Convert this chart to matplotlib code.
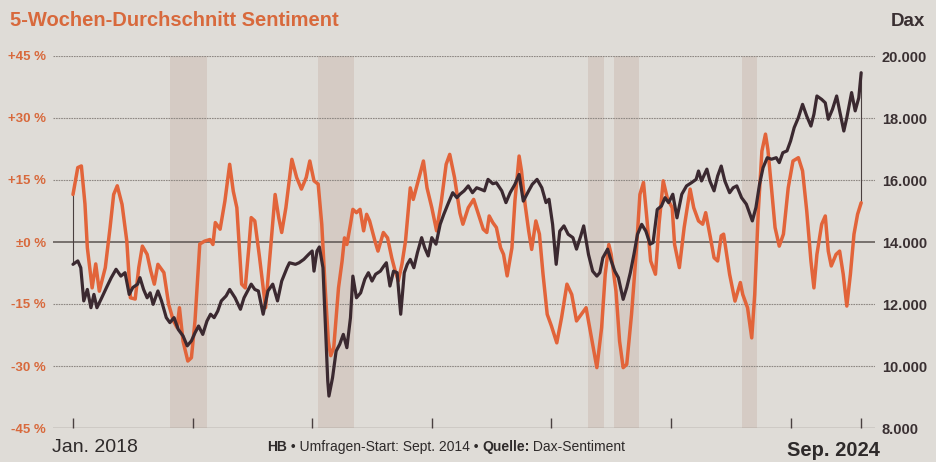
import numpy as np
import matplotlib
matplotlib.use("Agg")
import matplotlib.pyplot as plt

plt.rcParams['font.family'] = ['Liberation Sans', 'DejaVu Sans']

START = 2018.0

# sentiment, 5-week average (%), x = years since Jan. 2018
sent_t = [0.00, 0.04, 0.07, 0.10, 0.12, 0.16, 0.19, 0.22, 0.27, 0.31, 0.34, 0.37, 0.41, 0.45,
          0.48, 0.52, 0.55, 0.58, 0.62, 0.65, 0.68, 0.71, 0.76, 0.80, 0.84, 0.87, 0.89, 0.92,
          0.96, 0.99, 1.02, 1.06, 1.10, 1.145, 1.17, 1.19, 1.23, 1.27, 1.31, 1.34, 1.37, 1.41,
          1.44, 1.47, 1.49, 1.52, 1.56, 1.61, 1.65, 1.69, 1.72, 1.745, 1.78, 1.83, 1.87, 1.91,
          1.95, 1.98, 2.015, 2.05, 2.08, 2.11, 2.135, 2.155, 2.18, 2.22, 2.25, 2.27, 2.29, 2.32,
          2.34, 2.37, 2.40, 2.43, 2.455, 2.48, 2.525, 2.55, 2.595, 2.63, 2.665, 2.69, 2.72, 2.75,
          2.78, 2.82, 2.845, 2.89, 2.93, 2.96, 3.00, 3.04, 3.08, 3.12, 3.15, 3.19, 3.235, 3.26,
          3.305, 3.35, 3.39, 3.43, 3.46, 3.48, 3.51, 3.54, 3.575, 3.60, 3.63, 3.67, 3.695, 3.73,
          3.75, 3.78, 3.81, 3.835, 3.87, 3.90, 3.93, 3.965, 4.00, 4.045, 4.085, 4.13, 4.17, 4.21,
          4.25, 4.29, 4.33, 4.38, 4.42, 4.45, 4.48, 4.50, 4.54, 4.57, 4.60, 4.63, 4.67, 4.71,
          4.74, 4.77, 4.80, 4.83, 4.87, 4.90, 4.935, 4.97, 5.01, 5.03, 5.07, 5.11, 5.16, 5.19,
          5.23, 5.265, 5.29, 5.33, 5.36, 5.39, 5.42, 5.44, 5.465, 5.49, 5.535, 5.58, 5.60, 5.64,
          5.675, 5.70, 5.73, 5.76, 5.79, 5.81, 5.84, 5.87, 5.905, 5.94, 5.98, 6.02, 6.065, 6.10,
          6.135, 6.17, 6.195, 6.22, 6.26, 6.29, 6.315, 6.34, 6.38, 6.41, 6.44, 6.47, 6.50, 6.53,
          6.56, 6.59]
sent_pct = [11.5, 18.0, 18.4, 9.2, -1.4, -11.1, -5.3, -11.9, -6.2, 3.5, 11.5, 13.6, 9.1, 0.2,
            -13.5, -13.8, -6.2, -1.0, -3.0, -7.0, -10.2, -5.4, -7.4, -15.1, -19.1, -20.7, -15.9, -24.0,
            -28.8, -28.0, -19.1, -0.5, 0.2, 0.6, -0.6, 4.7, 3.1, 9.9, 18.8, 12.3, 8.3, -10.2,
            -11.1, -1.4, 5.9, 5.1, -3.8, -15.9, -2.2, 11.5, 5.9, 2.3, 8.3, 20.0, 15.6, 12.8,
            15.6, 19.6, 14.8, 14.0, 4.3, -11.9, -24.0, -27.5, -25.6, -11.1, -4.6, 1.0, -0.6, 4.3,
            7.9, 7.1, 7.9, 2.7, 6.7, 5.1, 0.2, -2.2, 2.3, 1.0, -3.8, -6.6, -9.4, -5.4,
            0.2, 13.1, 10.3, 15.2, 19.6, 13.1, 8.3, 2.7, 9.9, 18.8, 21.2, 15.6, 7.0, 4.3,
            8.3, 10.3, 6.7, 3.1, 2.3, 6.3, 4.7, 3.5, -1.4, -3.0, -8.2, -1.4, 9.9, 20.8,
            17.2, 9.1, 2.7, -1.8, 5.1, 1.9, -7.8, -17.5, -20.3, -24.4, -18.3, -10.2, -12.7, -19.1,
            -17.5, -15.9, -22.3, -30.4, -20.7, -7.8, -0.6, -3.0, -11.9, -24.0, -30.4, -29.6, -17.5, -2.2,
            11.5, 14.4, 5.1, -4.6, -7.8, 4.3, 14.8, 10.5, 8.3, -0.6, -6.2, 3.5, 12.8, 8.3,
            5.1, 4.3, 7.1, 1.0, -3.8, -4.6, 1.5, 1.9, -3.0, -7.8, -14.3, -9.8, -12.7, -15.9,
            -23.2, -12.7, 7.5, 22.0, 26.1, 22.4, 13.1, 3.5, -1.0, 1.9, 13.1, 19.6, 20.4, 17.2,
            7.5, -4.6, -11.1, -3.0, 4.3, 6.3, -2.2, -5.8, -3.0, -2.2, -7.8, -15.5, -7.8, 1.9,
            6.7, 9.5]

# Dax index points
dax_t = [0.00, 0.04, 0.065, 0.09, 0.12, 0.15, 0.175, 0.20, 0.24, 0.28, 0.32, 0.36, 0.40, 0.435,
         0.47, 0.50, 0.54, 0.56, 0.59, 0.62, 0.645, 0.67, 0.71, 0.74, 0.78, 0.81, 0.845, 0.88,
         0.92, 0.955, 0.99, 1.02, 1.05, 1.085, 1.12, 1.15, 1.18, 1.21, 1.24, 1.28, 1.31, 1.355,
         1.40, 1.43, 1.49, 1.52, 1.55, 1.59, 1.63, 1.67, 1.71, 1.745, 1.79, 1.81, 1.86, 1.89,
         1.93, 1.97, 2.00, 2.015, 2.04, 2.06, 2.09, 2.11, 2.13, 2.14, 2.17, 2.20, 2.23, 2.26,
         2.29, 2.32, 2.34, 2.37, 2.405, 2.44, 2.47, 2.50, 2.53, 2.57, 2.60, 2.62, 2.65, 2.68,
         2.71, 2.74, 2.77, 2.795, 2.82, 2.85, 2.88, 2.915, 2.94, 2.97, 3.00, 3.035, 3.07, 3.10,
         3.14, 3.175, 3.21, 3.235, 3.27, 3.305, 3.34, 3.375, 3.41, 3.44, 3.47, 3.51, 3.54, 3.585,
         3.62, 3.655, 3.695, 3.73, 3.765, 3.81, 3.84, 3.88, 3.92, 3.955, 3.98, 4.01, 4.04, 4.07,
         4.105, 4.14, 4.18, 4.21, 4.245, 4.27, 4.31, 4.345, 4.38, 4.405, 4.43, 4.47, 4.50, 4.53,
         4.56, 4.60, 4.63, 4.66, 4.69, 4.72, 4.755, 4.79, 4.825, 4.85, 4.885, 4.92, 4.95, 4.98,
         5.015, 5.05, 5.09, 5.13, 5.17, 5.21, 5.23, 5.255, 5.30, 5.325, 5.36, 5.39, 5.42, 5.45,
         5.49, 5.52, 5.55, 5.59, 5.63, 5.66, 5.68, 5.71, 5.74, 5.77, 5.805, 5.84, 5.88, 5.905,
         5.935, 5.97, 6.00, 6.03, 6.065, 6.10, 6.135, 6.17, 6.195, 6.22, 6.26, 6.29, 6.315, 6.35,
         6.385, 6.41, 6.445, 6.47, 6.51, 6.54, 6.57, 6.59]
dax_pts = [13280, 13390, 13170, 12100, 12470, 11880, 12310, 11880, 12200, 12530, 12850, 13120, 12900, 13010,
           12310, 12530, 12640, 12850, 12470, 12200, 12360, 11990, 12420, 12100, 11560, 11400, 11560, 11180,
           10970, 10650, 10810, 11070, 11290, 11020, 11450, 11670, 11560, 11770, 12100, 12260, 12470, 12200,
           11830, 12200, 12640, 12470, 12420, 11670, 12420, 12640, 12100, 12740, 13170, 13330, 13280, 13330,
           13440, 13600, 13710, 13060, 13710, 13840, 13170, 11340, 9520, 9030, 9620, 10480, 10700, 11020,
           10590, 11560, 12900, 12200, 12360, 12800, 13010, 12740, 12960, 13060, 13230, 13330, 12580, 13060,
           13010, 11670, 13010, 13280, 13440, 13170, 13660, 14140, 13820, 13550, 14140, 13930, 14570, 14890,
           15270, 15590, 15430, 15540, 15650, 15810, 15590, 15750, 15700, 15650, 16020, 15880, 15910, 15650,
           15270, 15590, 15860, 16180, 15320, 15650, 15860, 16020, 15750, 15270, 15380, 14570, 13280, 14350,
           14520, 14250, 14140, 13770, 14190, 14520, 13600, 13060, 12900, 13010, 13490, 13770, 13390, 13060,
           12850, 12150, 12530, 13010, 13600, 14250, 14570, 14350, 13930, 13980, 15050, 15160, 15430, 15270,
           15540, 14780, 15540, 15810, 15910, 16020, 16290, 15970, 16350, 15970, 15650, 16130, 16450, 15970,
           15590, 15750, 15810, 15430, 15220, 14890, 14680, 15110, 15860, 16400, 16720, 16670, 16720, 16560,
           16880, 16940, 17260, 17690, 18010, 18440, 18060, 17740, 18120, 18710, 18600, 18490, 17960, 18280,
           18710, 18230, 17580, 18010, 18820, 18230, 18650, 19460]

# shaded periods (years since Jan. 2018)
band_start = [0.81, 2.05, 4.31, 4.52, 5.59]
band_end = [1.12, 2.35, 4.44, 4.73, 5.72]

pct_ticks = [45, 30, 15, 0, -15, -30, -45]
pct_labels = ['+45 %', '+30 %', '+15 %', '±0 %', '-15 %', '-30 %', '-45 %']
dax_ticks = [20000, 18000, 16000, 14000, 12000, 10000, 8000]
dax_labels = ['20.000', '18.000', '16.000', '14.000', '12.000', '10.000', '8.000']
year_ticks = [0, 1, 2, 3, 4, 5, 6]

BG = '#dfdcd7'
ORANGE = '#e2643a'
TITLE_OR = '#d8693c'
DARK = '#3b2930'
BAND = '#d5cbc4'
GRID = '#8e8883'

sx = START + np.array(sent_t)
dx = START + np.array(dax_t)

fig = plt.figure(figsize=(9.36, 4.62), dpi=100, facecolor=BG)
ax = fig.add_axes([53 / 936, 1 - 428 / 462, (875 - 53) / 936, (428 - 56) / 462])
ax.set_facecolor(BG)
ax2 = ax.twinx()

ax.set_xlim(START - 20 / 119.6, START + (875 - 73) / 119.6)
ax.set_ylim(-45, 45)
ax2.set_ylim(8000, 20000)

for a, b in zip(band_start, band_end):
    ax.axvspan(START + a, START + b, color=BAND, lw=0, zorder=0)

for v in [45, 30, 15, -15, -30]:
    ax.axhline(v, color=GRID, lw=0.8, ls=(0, (1.5, 0.8)), zorder=1)
ax.axhline(0, color='#5b5350', lw=1.1, zorder=1)
ax.axhline(-45, color='#8a847f', lw=1.0, zorder=1)

ax.plot(sx, sent_pct, color=ORANGE, lw=2.5, solid_joinstyle='round', solid_capstyle='round', zorder=3)
ax2.plot(dx, dax_pts, color=DARK, lw=2.3, solid_joinstyle='round', solid_capstyle='round', zorder=3)

# thin connectors between the two series at both ends
to_pct = lambda d: (d - 14000) / 2000 * 15
ax.plot([sx[0], dx[0]], [sent_pct[0], to_pct(dax_pts[0])], color='#4a4040', lw=0.8, zorder=2)
ax.plot([sx[-1], dx[-1]], [sent_pct[-1], to_pct(dax_pts[-1])], color='#4a4040', lw=0.8, zorder=2)

for s in list(ax.spines.values()) + list(ax2.spines.values()):
    s.set_visible(False)

ax.set_yticks(pct_ticks)
ax.set_yticklabels(pct_labels, color=TITLE_OR, fontsize=9.5, fontweight='bold')
ax.tick_params(axis='y', length=0, pad=5)
ax2.set_yticks(dax_ticks)
ax2.set_yticklabels(dax_labels, color='#3a3032', fontsize=10.5, fontweight='bold')
ax2.tick_params(axis='y', length=0, pad=5)

xt = [START + y for y in year_ticks] + [dx[-1]]
ax.set_xticks(xt)
ax.set_xticklabels([])
ax.tick_params(axis='x', direction='in', length=7, width=1.0, color='#4a4040')

fig.text(10 / 936, 1 - 20 / 462, '5-Wochen-Durchschnitt Sentiment', color=TITLE_OR,
         fontsize=14.5, fontweight='bold', va='center', ha='left')
fig.text(925 / 936, 1 - 22 / 462, 'Dax', color='#3a3032', fontsize=13.5,
         fontweight='bold', va='center', ha='right')
fig.text(52 / 936, 1 - 447 / 462, 'Jan. 2018', color='#2e2a2a', fontsize=14,
         va='center', ha='left')
fig.text(880 / 936, 1 - 450 / 462, 'Sep. 2024', color='#2e2a2a', fontsize=14.5,
         fontweight='bold', va='center', ha='right')

parts = [('HB', 'bold'), (' • Umfragen-Start: Sept. 2014 • ', 'normal'),
         ('Quelle:', 'bold'), (' Dax-Sentiment', 'normal')]
fig.canvas.draw()
r = fig.canvas.get_renderer()
widths = []
for t, w in parts:
    tt = fig.text(0, 0, t, fontsize=10, fontweight=w)
    widths.append(tt.get_window_extent(r).width)
    tt.remove()
x0 = 446 - sum(widths) / 2
for (t, w), wd in zip(parts, widths):
    fig.text(x0 / 936, 1 - 447 / 462, t, fontsize=10, fontweight=w, color='#2e2a2a',
             va='center', ha='left')
    x0 += wd

fig.savefig('out.png', dpi=100, facecolor=BG)
